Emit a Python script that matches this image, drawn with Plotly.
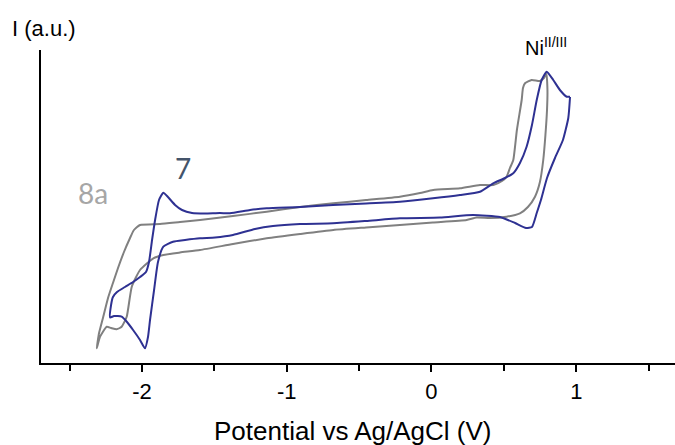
import plotly.graph_objects as go

# Compound 7 (blue) cyclic voltammogram, potential (V vs Ag/AgCl) and current (a.u.)
blue_potential = [0.957, 0.945, 0.908, 0.853, 0.798, 0.756, 0.727, 0.694, 0.653, 0.577,
                  0.473, 0.287, 0.059, -0.218, -0.452, -0.680, -0.908, -1.095, -1.219, -1.371,
                  -1.495, -1.599, -1.702, -1.785, -1.852, -1.889, -1.916, -1.944, -1.958, -1.979,
                  -2.013, -2.061, -2.103, -2.140, -2.193, -2.220, -2.213, -2.200, -2.172, -2.117,
                  -2.061, -2.013, -1.972, -1.951, -1.930, -1.909, -1.882, -1.852, -1.820, -1.771,
                  -1.723, -1.654, -1.564, -1.461, -1.392, -1.253, -1.138, -0.908, -0.680, -0.452,
                  -0.218, 0.010, 0.197, 0.335, 0.427, 0.508, 0.565, 0.611, 0.657, 0.694,
                  0.727, 0.761, 0.796, 0.841, 0.887, 0.934, 0.957]
blue_current = [2.66, 2.45, 2.23, 2.05, 1.85, 1.63, 1.50, 1.36, 1.35, 1.40,
                1.46, 1.48, 1.455, 1.447, 1.42, 1.397, 1.39, 1.37, 1.34, 1.28,
                1.255, 1.247, 1.23, 1.213, 1.163, 1.01, 0.73, 0.43, 0.26, 0.147,
                0.23, 0.33, 0.41, 0.463, 0.47, 0.455, 0.58, 0.66, 0.71, 0.76,
                0.81, 0.86, 0.91, 1.01, 1.23, 1.43, 1.63, 1.703, 1.66, 1.58,
                1.53, 1.50, 1.495, 1.50, 1.497, 1.53, 1.547, 1.56, 1.58, 1.595,
                1.613, 1.647, 1.68, 1.713, 1.797, 1.85, 1.897, 2.00, 2.163, 2.38,
                2.63, 2.83, 2.913, 2.83, 2.73, 2.663, 2.663]

# Compound 8a (gray)
gray_potential = [0.794, 0.801, 0.798, 0.787, 0.772, 0.749, 0.715, 0.666, 0.611, 0.519,
                  0.404, 0.312, 0.243, 0.010, -0.218, -0.452, -0.678, -0.908, -1.138, -1.371,
                  -1.599, -1.737, -1.852, -1.921, -2.013, -2.070, -2.105, -2.140, -2.174, -2.213,
                  -2.243, -2.289, -2.312, -2.296, -2.267, -2.234, -2.200, -2.165, -2.124, -2.082,
                  -2.055, -2.013, -1.875, -1.737, -1.599, -1.371, -1.138, -0.908, -0.678, -0.452,
                  -0.218, -0.079, 0.012, 0.197, 0.335, 0.427, 0.487, 0.519, 0.542, 0.565,
                  0.590, 0.623, 0.632, 0.646, 0.692, 0.749, 0.777, 0.794]
gray_current = [2.89, 2.73, 2.53, 2.28, 2.03, 1.81, 1.663, 1.56, 1.497, 1.463,
                1.45, 1.455, 1.43, 1.405, 1.38, 1.355, 1.33, 1.29, 1.247, 1.19,
                1.13, 1.105, 1.08, 1.047, 0.93, 0.763, 0.463, 0.363, 0.337, 0.35,
                0.363, 0.263, 0.147, 0.30, 0.463, 0.65, 0.80, 0.95, 1.11, 1.25,
                1.33, 1.38, 1.39, 1.41, 1.43, 1.47, 1.513, 1.56, 1.597, 1.63,
                1.663, 1.70, 1.73, 1.747, 1.78, 1.78, 1.82, 1.863, 1.95, 2.03,
                2.33, 2.63, 2.75, 2.797, 2.83, 2.82, 2.85, 2.89]

major_ticks = [-2, -1, 0, 1]
major_labels = ["-2", "-1", "0", "1"]
minor_ticks = [-2.5, -1.5, -0.5, 0.5, 1.5]

fig = go.Figure()
fig.add_trace(go.Scatter(x=gray_potential, y=gray_current, mode="lines",
                         line=dict(color="#808080", width=2, shape="spline", smoothing=0.5),
                         name="8a", showlegend=False, hoverinfo="skip"))
fig.add_trace(go.Scatter(x=blue_potential, y=blue_current, mode="lines",
                         line=dict(color="#2E3192", width=2, shape="spline", smoothing=0.5),
                         name="7", showlegend=False, hoverinfo="skip"))

fig.update_layout(
    width=675, height=445,
    margin=dict(l=41, r=0, t=50, b=82),
    paper_bgcolor="white", plot_bgcolor="white",
    font=dict(family="Liberation Sans, Arial, sans-serif", color="black"),
    xaxis=dict(range=[-2.697, 1.682], showline=True, linecolor="black", linewidth=2,
               ticks="outside", ticklen=7, tickwidth=2, tickcolor="black",
               tickvals=major_ticks, ticktext=major_labels,
               tickfont=dict(size=22, color="black"), ticklabelstandoff=1,
               minor=dict(tickvals=minor_ticks, ticks="outside", ticklen=6,
                          tickwidth=2, tickcolor="black", showgrid=False),
               showgrid=False, zeroline=False, fixedrange=True),
    yaxis=dict(range=[0, 3.13], showline=True, linecolor="black", linewidth=2,
               ticks="", showticklabels=False, showgrid=False, zeroline=False,
               fixedrange=True),
    annotations=[
        dict(text="Potential vs Ag/AgCl (V)", xref="paper", yref="paper",
             x=0.491, y=-0.218, xanchor="center", yanchor="middle", showarrow=False,
             font=dict(size=26, color="black")),
        dict(text="I (a.u.)", xref="paper", yref="paper",
             x=-0.049, y=1.07, xanchor="left", yanchor="middle", showarrow=False,
             font=dict(size=22, color="black")),
        dict(text="Ni<sup>II/III</sup>", xref="paper", yref="paper",
             x=0.76, y=1.01, xanchor="left", yanchor="middle", showarrow=False,
             font=dict(size=20, color="black")),
        dict(text="7", xref="paper", yref="paper",
             x=0.224, y=0.623, xanchor="center", yanchor="middle", showarrow=False,
             font=dict(family="Lato, Open Sans, sans-serif", size=28, color="#44546A")),
        dict(text="8a", xref="paper", yref="paper",
             x=0.082, y=0.543, xanchor="center", yanchor="middle", showarrow=False,
             font=dict(family="Lato, Open Sans, sans-serif", size=28, color="#A6A6A6")),
    ],
)

fig.write_html("out.html", post_script="document.body.style.margin='0';",
               config={"displayModeBar": False})
